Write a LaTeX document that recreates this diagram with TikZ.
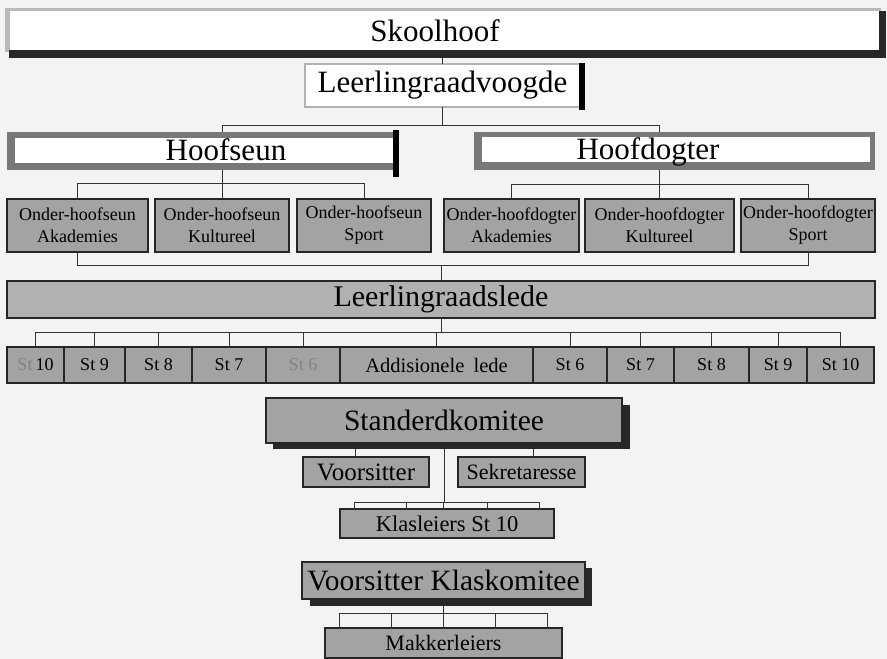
\documentclass[tikz,border=0pt]{standalone}
\usepackage{fontspec}
\setmainfont{Liberation Serif}
\newcommand\myfs[2][]{\fontsize{#2}{#2}\selectfont}
\definecolor{bg}{RGB}{243,243,243}
\definecolor{boxgray}{RGB}{163,163,163}
\definecolor{framegray}{RGB}{120,120,120}
\definecolor{fadetxt}{RGB}{130,130,130}
\definecolor{shadowc}{RGB}{40,40,40}
\begin{document}
\begin{tikzpicture}[x=1pt,y=-1pt,
  wbox/.style={fill=white, draw=none, inner sep=0pt, outer sep=0pt},
  framebox/.style={fill=framegray, draw=none, inner sep=0pt, outer sep=0pt},
  shadowbox/.style={fill=shadowc, draw=none, inner sep=0pt, outer sep=0pt},
  gbox/.style={fill=boxgray, draw=black!85, line width=1.5pt, inner sep=0pt, outer sep=0pt, align=center, text=black},
  conn/.style={draw=black!80, line width=0.9pt}]
\useasboundingbox (0,0) rectangle (887,659);
\fill[bg] (0,0) rectangle (887,659);

% Skoolhoof
\fill[gray!55] (5,8) rectangle (881,52);
\fill[shadowc] (9,50) rectangle (886,58);
\fill[shadowc] (879,11) rectangle (886,58);
\coordinate (skoolS) at (444,58);
\node[wbox, minimum width=869pt, minimum height=39pt] (skool) at (444.5,30.5) {};
\node[font=\myfs{31}, inner sep=0pt] (skoolT) at (435,31) {Skoolhoof};

% Leerlingraadvoogde
\node[wbox, draw=gray!60, line width=1.5pt, minimum width=275pt, minimum height=43pt, font=\myfs{31}] (voogde) at (442.5,85.5) {Leerlingraadvoogde};
\fill[black] (579,63) rectangle (585,110);

% Hoofseun
\node[framebox, minimum width=387pt, minimum height=38pt] (seunF) at (200.5,151) {};
\node[wbox, minimum width=378pt, minimum height=25pt] (seun) at (204,150.5) {};
\node[font=\myfs{31}, inner sep=0pt] (seunT) at (226,150) {Hoofseun};
\fill[black] (393,130) rectangle (399,177);

% Hoofdogter
\node[framebox, minimum width=401pt, minimum height=38pt] (dogterF) at (674.5,151) {};
\node[wbox, minimum width=388pt, minimum height=25pt] (dogter) at (676,149.5) {};
\node[font=\myfs{31}, inner sep=0pt] (dogterT) at (648,152) {Hoofdogter};

% Sub-heads
\begin{scope}[every node/.append style={font=\fontsize{18}{22}\selectfont}]
\node[gbox, minimum width=141pt, minimum height=53pt] (aB) at (77.5,225.5) {Onder-hoofseun\\Akademies};
\node[gbox, minimum width=134pt, minimum height=53pt] (kB) at (222,225.5) {Onder-hoofseun\\Kultureel};
\node[gbox, minimum width=134pt, minimum height=53pt] (sB) at (364,225.5) {Onder-hoofseun\\Sport};
\node[gbox, minimum width=135pt, minimum height=53pt] (aG) at (511.5,225.5) {Onder-hoofdogter\\Akademies};
\node[gbox, minimum width=149pt, minimum height=53pt] (kG) at (659.5,225.5) {Onder-hoofdogter\\Kultureel};
\node[gbox, minimum width=134pt, minimum height=53pt] (sG) at (808,225.5) {Onder-hoofdogter\\Sport};
\end{scope}

% Leerlingraadslede
\node[gbox, fill=boxgray!85, minimum width=868pt, minimum height=37pt, font=\myfs{30}] (lede) at (441,299.5) {Leerlingraadslede};

% St row
\begin{scope}[every node/.append style={font=\myfs{18}, minimum height=36pt}]
\node[gbox, minimum width=57pt] (st1) at (35.5,365) {{\color{fadetxt}St}\,10};
\node[gbox, minimum width=61pt] (st2) at (94.5,365) {St 9};
\node[gbox, minimum width=67pt] (st3) at (158.5,365) {St 8};
\node[gbox, minimum width=74pt] (st4) at (229,365) {St 7};
\node[gbox, minimum width=74pt, text=fadetxt] (st5) at (303,365) {St 6};
\node[gbox, minimum width=193pt, font=\myfs{20.5}] (st6) at (436.5,365) {Addisionele\hspace{0.45em}lede};
\node[gbox, minimum width=74pt] (st7) at (570,365) {St 6};
\node[gbox, minimum width=67pt] (st8) at (640.5,365) {St 7};
\node[gbox, minimum width=75pt] (st9) at (711.5,365) {St 8};
\node[gbox, minimum width=58pt] (st10) at (778,365) {St 9};
\node[gbox, minimum width=67pt] (st11) at (840.5,365) {St 10};
\end{scope}

% Standerdkomitee
\node[shadowbox, minimum width=357pt, minimum height=44pt] (stkS) at (451.5,427) {};
\node[gbox, minimum width=356pt, minimum height=45pt, font=\myfs{29.5}] (stk) at (444,420.5) {Standerdkomitee};
\node[gbox, minimum width=126pt, minimum height=30pt, font=\myfs{25}] (vs) at (366,472) {Voorsitter};
\node[gbox, minimum width=127pt, minimum height=30pt, font=\myfs{22}] (sek) at (521.5,472) {Sekretaresse};
\node[gbox, minimum width=214pt, minimum height=29pt, font=\myfs{22.5}] (kl) at (447,523.5) {Klasleiers St 10};

% Voorsitter Klaskomitee
\node[shadowbox, minimum width=282pt, minimum height=38pt] (vkS) at (451,587) {};
\node[gbox, minimum width=283pt, minimum height=37pt, font=\myfs{29.5}] (vk) at (443.5,580.5) {Voorsitter Klaskomitee};
\node[gbox, minimum width=237pt, minimum height=30pt, font=\myfs{22}] (mk) at (443.5,643) {Makkerleiers};

% Connectors
\coordinate (bus1) at (0,125);
\coordinate (bus2) at (0,183);
\coordinate (bus2g) at (0,184);
\coordinate (bus3) at (0,265);
\coordinate (bus4) at (0,332);
\coordinate (bus5) at (0,502);
\coordinate (bus6) at (0,613);

\draw[conn] (voogde.north) -- (voogde.north |- skoolS);
\draw[conn] (voogde.south) -- (voogde.south |- bus1);
\draw[conn] (seunF.north -| kB.north) -- (kB.north |- bus1) -- (kG.north |- bus1) -- (dogterF.north -| kG.north);

\draw[conn] (seunF.south -| kB.north) -- (kB.north);
\draw[conn] (aB.north) -- (aB.north |- bus2) -- (sB.north |- bus2) -- (sB.north);
\draw[conn] (dogterF.south -| kG.north) -- (kG.north);
\draw[conn] (aG.north) -- (aG.north |- bus2g) -- (sG.north |- bus2g) -- (sG.north);

\draw[conn] (aB.south) -- (aB.south |- bus3) -- (sG.south |- bus3) -- (sG.south);
\draw[conn] (lede.north |- bus3) -- (lede.north);

\draw[conn] (lede.south) -- (lede.south |- bus4);
\draw[conn] (st1.north) -- (st1.north |- bus4) -- (st11.north |- bus4) -- (st11.north);
\foreach \i in {2,...,10} {\draw[conn] (st\i.north) -- (st\i.north |- bus4);}

\draw[conn] ([xshift=-11pt]vs.north) -- ([xshift=-11pt]vs.north |- stkS.south);
\draw[conn] ([xshift=11.5pt]sek.north) -- ([xshift=11.5pt]sek.north |- stkS.south);
\draw[conn] (stk.south |- stkS.south) -- (stk.south |- bus5);
\draw[conn] ([xshift=14pt]kl.north west) -- ([xshift=14pt]kl.north west |- bus5) -- ([xshift=199pt]kl.north west |- bus5) -- ([xshift=199pt]kl.north west);
\foreach \d in {66,103,147} {\draw[conn] ([xshift=\d pt]kl.north west) -- ([xshift=\d pt]kl.north west |- bus5);}

\draw[conn] (vk.south |- vkS.south) -- (vk.south |- bus6);
\draw[conn] ([xshift=14pt]mk.north west) -- ([xshift=14pt]mk.north west |- bus6) -- ([xshift=222pt]mk.north west |- bus6) -- ([xshift=222pt]mk.north west);
\foreach \d in {66,118,170} {\draw[conn] ([xshift=\d pt]mk.north west) -- ([xshift=\d pt]mk.north west |- bus6);}
\end{tikzpicture}
\end{document}
